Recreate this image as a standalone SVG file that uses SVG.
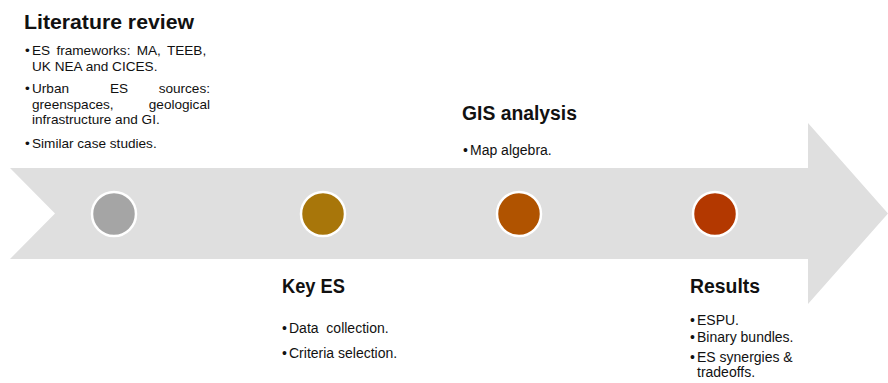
<svg xmlns="http://www.w3.org/2000/svg" width="888" height="383" viewBox="0 0 888 383">
<style>
.t{font-family:"Liberation Sans",Arial,sans-serif;font-weight:bold;font-size:20px;fill:#111}
.b{font-family:"Liberation Sans",Arial,sans-serif;font-size:14px;fill:#111}
.s{font-size:13.6px}
.dot{stroke:#fff;stroke-width:2.5}
</style>
<rect width="888" height="383" fill="#fff"/>
<g id="connectors">
<path d="M10,168 L808,168 L808,123 L888,213.5 L808,304 L808,259 L10,259 L55,213.5 Z" fill="#dfdfdf"/>
</g>
<g id="node-literature">
<circle class="dot" cx="114" cy="214" r="22" fill="#a5a5a5"/>
<text class="t" x="24" y="29" textLength="170" lengthAdjust="spacingAndGlyphs">Literature review</text>
<text class="b s" x="25" y="55">•</text>
<text class="b s" x="32" y="55" word-spacing="2.5">ES frameworks: MA, TEEB,</text>
<text class="b s" x="32" y="70.5">UK NEA and CICES.</text>
<text class="b s" x="25" y="93">•</text>
<text class="b s" x="32" y="93">Urban</text>
<text class="b s" x="119" y="93" text-anchor="middle">ES</text>
<text class="b s" x="210" y="93" text-anchor="end">sources:</text>
<text class="b s" x="32" y="108.5">greenspaces,</text>
<text class="b s" x="210" y="108.5" text-anchor="end">geological</text>
<text class="b s" x="32" y="124">infrastructure and GI.</text>
<text class="b s" x="25" y="148">•</text>
<text class="b s" x="32" y="148">Similar case studies.</text>
</g>
<g id="node-keyes">
<circle class="dot" cx="323" cy="214" r="22" fill="#a8760a"/>
<text class="t" x="282" y="293" textLength="63" lengthAdjust="spacingAndGlyphs">Key ES</text>
<text class="b" x="282" y="333">•</text>
<text class="b" x="289" y="333" xml:space="preserve">Data  collection.</text>
<text class="b" x="282" y="358">•</text>
<text class="b" x="289" y="358">Criteria selection.</text>
</g>
<g id="node-gis">
<circle class="dot" cx="519" cy="214" r="22" fill="#b05300"/>
<text class="t" x="462" y="120" textLength="115" lengthAdjust="spacingAndGlyphs">GIS analysis</text>
<text class="b" x="463" y="155">•</text>
<text class="b" x="470" y="155">Map algebra.</text>
</g>
<g id="node-results">
<circle class="dot" cx="715" cy="214" r="22" fill="#b33800"/>
<text class="t" x="690" y="293" textLength="70" lengthAdjust="spacingAndGlyphs">Results</text>
<text class="b" x="690" y="325">•</text>
<text class="b" x="697" y="325">ESPU.</text>
<text class="b" x="690" y="342">•</text>
<text class="b" x="697" y="342">Binary bundles.</text>
<text class="b" x="690" y="362">•</text>
<text class="b" x="697" y="362">ES synergies &amp;</text>
<text class="b" x="697" y="377">tradeoffs.</text>
</g>
</svg>
